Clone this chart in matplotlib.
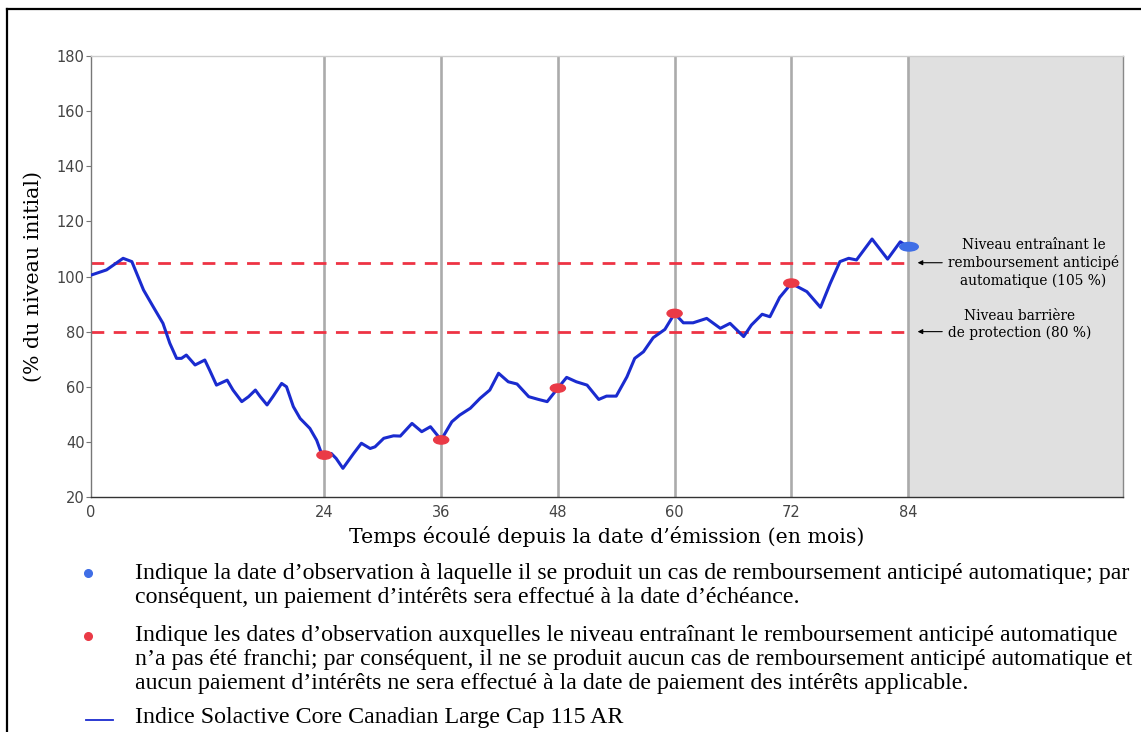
import numpy as np
import matplotlib
matplotlib.use("Agg")
import matplotlib.pyplot as plt
from matplotlib.lines import Line2D
from matplotlib.patches import Ellipse

# index level (% of initial level), by month
months = [0, 1.6, 3.3, 4.2, 5.4, 6.4, 7.4, 8.1, 8.8, 9.3, 9.8, 10.7, 11.7, 12.2, 12.9,
          14.0, 14.6, 15.5, 16.2, 16.9, 17.4, 18.1, 18.7, 19.6, 20.1, 20.8, 21.5, 22.5,
          23.2, 23.7, 24.0, 24.7, 25.2, 25.9, 27.0, 27.8, 28.7, 29.2, 30.1, 31.1, 31.8,
          33.0, 34.0, 34.9, 36.0, 37.1, 37.9, 39.0, 40.0, 41.0, 41.9, 42.9, 43.8, 45.0,
          46.0, 46.9, 48.0, 48.9, 49.9, 51.0, 52.2, 53.0, 54.0, 55.1, 55.9, 56.8, 57.8,
          59.0, 60.0, 60.9, 61.9, 63.3, 64.7, 65.7, 67.1, 67.9, 69.0, 69.8, 70.8, 72.0,
          73.6, 75.0, 76.0, 77.0, 77.9, 78.7, 80.3, 81.9, 83.2, 84.0]
level = [100.5, 102.4, 106.6, 105.4, 95.1, 89, 83, 75.8, 70.3, 70.3, 71.5, 67.9, 69.7, 66, 60.6,
         62.4, 58.8, 54.6, 56.4, 58.8, 56.4, 53.4, 56.4, 61.2, 60, 52.8, 48.5, 44.9,
         40.6, 35.8, 35.2, 35.8, 34, 30.4, 35.8, 39.5, 37.6, 38.2, 41.3, 42.2, 42.1,
         46.7, 43.7, 45.5, 40.7, 47.3, 49.7, 52.2, 55.8, 58.8, 64.9, 61.8, 61, 56.4,
         55.4, 54.6, 59.5, 63.4, 61.8, 60.6, 55.4, 56.6, 56.6, 63.6, 70.3, 72.7, 77.8,
         80.8, 86.6, 83.2, 83.2, 84.8, 81.2, 83, 78.2, 82.4, 86.3, 85.4, 92.4, 97.5,
         94.5, 88.8, 97.5, 105.4, 106.6, 106, 113.6, 106.3, 112.6, 110.8]

obs_red_x = [24, 36, 48, 60, 72]
obs_red_y = [35.2, 40.7, 59.5, 86.6, 97.6]
obs_blue_x = [84]
obs_blue_y = [110.8]

obs_dates = [24, 36, 48, 60, 72, 84]
autocall_level = 105
barrier_level = 80
xticks = [0, 24, 36, 48, 60, 72, 84]
yticks = [20, 40, 60, 80, 100, 120, 140, 160, 180]

W, H = 1141, 732
fig = plt.figure(figsize=(W / 100, H / 100), dpi=100)
ax = fig.add_axes([91 / W, 1 - 497 / H, (1123 - 91) / W, (497 - 56) / H])

ax.set_xlim(0, 106.1)
ax.set_ylim(20, 180)
ax.axvspan(84, 106.1, color="#e0e0e0", zorder=0)
for d in obs_dates:
    ax.axvline(d, color="#ababab", lw=1.9, zorder=1)
ax.hlines([autocall_level, barrier_level], 0, 84, colors="#ee3344", lw=2,
          linestyles=[(0, (4.6, 3.4))], zorder=2)
ax.plot(months, level, color="#1a2bcf", lw=2.2, solid_joinstyle="round",
        solid_capstyle="round", zorder=3)

for x, y in zip(obs_red_x, obs_red_y):
    ax.add_patch(Ellipse((x, y), 1.55, 3.0, color="#ea3a46", zorder=4))
for x, y in zip(obs_blue_x, obs_blue_y):
    ax.add_patch(Ellipse((x + 0.1, y), 1.9, 3.1, color="#3f6ee6", zorder=4))

ax.set_xticks(xticks)
ax.set_yticks(yticks)
ax.tick_params(axis="x", length=0, pad=6, labelsize=10.5, labelcolor="#444444")
ax.tick_params(axis="y", length=3.5, width=0.8, color="#777777", pad=1,
               labelsize=10.5, labelcolor="#444444")
ax.spines["top"].set_color("#cccccc")
ax.spines["right"].set_color("#888888")
ax.spines["left"].set_color("#777777")
ax.spines["bottom"].set_color("#333333")
for s in ax.spines.values():
    s.set_linewidth(1)

ax.set_ylabel("(% du niveau initial)", family="DejaVu Serif", fontsize=14.8,
              labelpad=10)
ax.set_xlabel("Temps écoulé depuis la date d’émission (en mois)",
              family="DejaVu Serif", fontsize=14.8, labelpad=4)

arrow = dict(arrowstyle="-|>", color="black", lw=0.8, mutation_scale=7)
ax.annotate("", xy=(84.7, autocall_level), xytext=(87.8, autocall_level),
            arrowprops=arrow)
ax.annotate("", xy=(84.7, barrier_level), xytext=(87.8, barrier_level),
            arrowprops=arrow)
ax.text(96.9, autocall_level,
        "Niveau entraînant le\nremboursement anticipé\nautomatique (105 %)",
        family="DejaVu Serif", fontsize=9.9, ha="center", va="center",
        linespacing=1.3)
ax.text(95.5, 82.6, "Niveau barrière\nde protection (80 %)",
        family="DejaVu Serif", fontsize=9.9, ha="center", va="center",
        linespacing=1.3)

# outer frame
fig.add_artist(Line2D([7 / W, 7 / W], [0, 1 - 9 / H], color="black", lw=1.6,
                      transform=fig.transFigure))
fig.add_artist(Line2D([7 / W, 1], [1 - 9 / H, 1 - 9 / H], color="black", lw=1.6,
                      transform=fig.transFigure))

# notes below the chart
notes = [
    (573, "Indique la date d’observation à laquelle il se produit un cas de remboursement anticipé automatique; par"),
    (598, "conséquent, un paiement d’intérêts sera effectué à la date d’échéance."),
    (636, "Indique les dates d’observation auxquelles le niveau entraînant le remboursement anticipé automatique"),
    (660, "n’a pas été franchi; par conséquent, il ne se produit aucun cas de remboursement anticipé automatique et"),
    (683, "aucun paiement d’intérêts ne sera effectué à la date de paiement des intérêts applicable."),
    (718, "Indice Solactive Core Canadian Large Cap 115 AR"),
]
for py, txt in notes:
    fig.text(135 / W, 1 - py / H, txt, family="Liberation Serif", fontsize=17.2,
             va="center", ha="left")
fig.add_artist(Line2D([88 / W], [1 - 573 / H], marker="o", ms=5.5, color="#3f6ee6",
                      lw=0, transform=fig.transFigure))
fig.add_artist(Line2D([88 / W], [1 - 636 / H], marker="o", ms=5.5, color="#ea3a46",
                      lw=0, transform=fig.transFigure))
fig.add_artist(Line2D([86 / W, 113 / W], [1 - 720 / H, 1 - 720 / H], color="#1a2bcf",
                      lw=1.3, transform=fig.transFigure))

fig.savefig("out.png", dpi=100)
